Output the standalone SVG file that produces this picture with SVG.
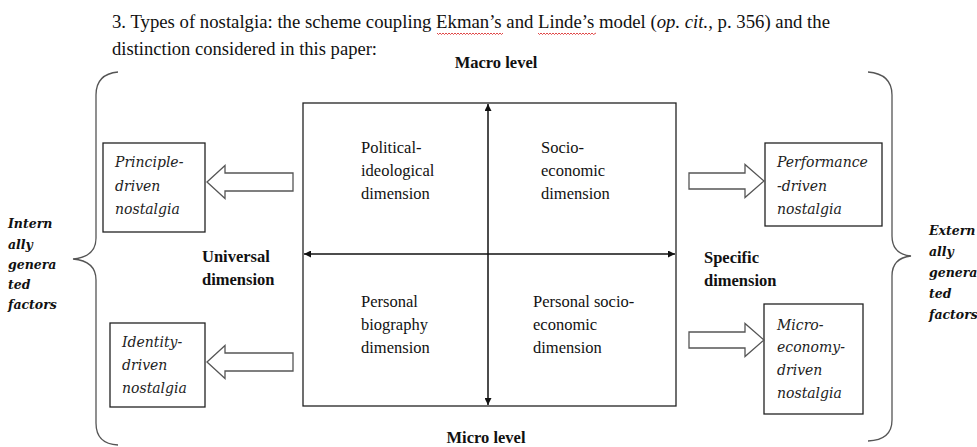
<svg xmlns="http://www.w3.org/2000/svg" width="977" height="447" viewBox="0 0 977 447">
<defs>
<style>
.title{font-family:"Liberation Serif","Times New Roman",serif;font-size:18px;fill:#111}
.lvl{font-family:"Liberation Serif","Times New Roman",serif;font-size:16.5px;font-weight:bold;fill:#111}
.quad{font-family:"Liberation Serif","Times New Roman",serif;font-size:16.5px;fill:#111}
.it{font-family:"DejaVu Serif","Liberation Serif",serif;font-size:14px;font-style:italic;fill:#222}
.side{font-family:"DejaVu Serif","Liberation Serif",serif;font-size:12.5px;font-style:italic;font-weight:bold;fill:#111}
.box{fill:#fff;stroke:#222;stroke-width:1.3}
.blk{fill:#fff;stroke:#555;stroke-width:1.3;stroke-linejoin:miter}
.brace{fill:none;stroke:#555;stroke-width:1.3}
.axis{stroke:#111;stroke-width:1.5;fill:none}
.wavy{fill:none;stroke:#d33;stroke-width:0.9}
</style>
<marker id="ah" viewBox="0 0 10 10" refX="10" refY="5" markerWidth="7" markerHeight="7" markerUnits="userSpaceOnUse" orient="auto-start-reverse">
<path d="M0,0 L10,5 L0,10 z" fill="#111"/>
</marker>
</defs>
<rect width="977" height="447" fill="#fff"/>

<g id="title">
<text class="title" x="112" y="28" textLength="718" lengthAdjust="spacingAndGlyphs">3. Types of nostalgia: the scheme coupling Ekman’s and Linde’s model (<tspan font-style="italic">op. cit.</tspan>, p. 356) and the</text>
<text class="title" x="112" y="55" textLength="265" lengthAdjust="spacingAndGlyphs">distinction considered in this paper:</text>
<polyline class="wavy" points="437,33 438.5,34.5 440,33 441.5,34.5 443,33 444.5,34.5 446,33 447.5,34.5 449,33 450.5,34.5 452,33 453.5,34.5 455,33 456.5,34.5 458,33 459.5,34.5 461,33 462.5,34.5 464,33 465.5,34.5 467,33 468.5,34.5 470,33 471.5,34.5 473,33 474.5,34.5 476,33 477.5,34.5 479,33 480.5,34.5 482,33 483.5,34.5 485,33 486.5,34.5 488,33 489.5,34.5 491,33 492.5,34.5 494,33 495.5,34.5 497,33 498.5,34.5 500,33 501.5,34.5 503,33"/>
<polyline class="wavy" points="538,33 539.5,34.5 541,33 542.5,34.5 544,33 545.5,34.5 547,33 548.5,34.5 550,33 551.5,34.5 553,33 554.5,34.5 556,33 557.5,34.5 559,33 560.5,34.5 562,33 563.5,34.5 565,33 566.5,34.5 568,33 569.5,34.5 571,33 572.5,34.5 574,33 575.5,34.5 577,33 578.5,34.5 580,33 581.5,34.5 583,33 584.5,34.5 586,33 587.5,34.5 589,33 590.5,34.5 592,33 593.5,34.5 596,33"/>
</g>

<g id="macro-level"><text class="lvl" x="496" y="68" text-anchor="middle">Macro level</text></g>
<g id="micro-level"><text class="lvl" x="486" y="443" text-anchor="middle">Micro level</text></g>

<g id="matrix">
<rect class="box" x="303" y="103" width="373" height="303"/>
<text class="quad"><tspan x="361" y="153">Political-</tspan><tspan x="361" y="176">ideological</tspan><tspan x="361" y="199">dimension</tspan></text>
<text class="quad"><tspan x="541" y="153">Socio-</tspan><tspan x="541" y="176">economic</tspan><tspan x="541" y="199">dimension</tspan></text>
<text class="quad"><tspan x="361" y="307">Personal</tspan><tspan x="361" y="330">biography</tspan><tspan x="361" y="353">dimension</tspan></text>
<text class="quad"><tspan x="533" y="307">Personal socio-</tspan><tspan x="533" y="330">economic</tspan><tspan x="533" y="353">dimension</tspan></text>
</g>

<g id="universal-dimension"><text class="lvl"><tspan x="202" y="262">Universal</tspan><tspan x="202" y="285">dimension</tspan></text></g>
<g id="specific-dimension"><text class="lvl"><tspan x="704" y="263">Specific</tspan><tspan x="704" y="286">dimension</tspan></text></g>

<g id="principle-driven">
<rect class="box" x="103" y="143" width="102" height="89"/>
<text class="it"><tspan x="115" y="167">Principle-</tspan><tspan x="115" y="191">driven</tspan><tspan x="115" y="214">nostalgia</tspan></text>
</g>
<g id="identity-driven">
<rect class="box" x="110" y="323" width="95" height="84"/>
<text class="it"><tspan x="122" y="347">Identity-</tspan><tspan x="122" y="370">driven</tspan><tspan x="122" y="393">nostalgia</tspan></text>
</g>
<g id="performance-driven">
<rect class="box" x="765" y="143" width="117" height="83"/>
<text class="it"><tspan x="777" y="167">Performance</tspan><tspan x="777" y="191">-driven</tspan><tspan x="777" y="214">nostalgia</tspan></text>
</g>
<g id="micro-economy-driven">
<rect class="box" x="764" y="304" width="99" height="110"/>
<text class="it"><tspan x="777" y="330">Micro-</tspan><tspan x="777" y="352">economy-</tspan><tspan x="777" y="375">driven</tspan><tspan x="777" y="398">nostalgia</tspan></text>
</g>

<g id="internal-factors">
<path class="brace" d="M118,72 Q96,74 96,95 L96,238 Q96,257 73,259 Q96,261 96,280 L96,423 Q96,444 118,445"/>
<text class="side"><tspan x="8" y="228">Intern</tspan><tspan x="8" y="249">ally</tspan><tspan x="8" y="269">genera</tspan><tspan x="8" y="289">ted</tspan><tspan x="8" y="309">factors</tspan></text>
</g>
<g id="external-factors">
<path class="brace" d="M868,72 Q892,74 892,95 L892,236 Q892,254 911,256 Q892,258 892,276 L892,420 Q892,440 868,441"/>
<text class="side"><tspan x="929" y="235">Extern</tspan><tspan x="929" y="256">ally</tspan><tspan x="929" y="277">genera</tspan><tspan x="929" y="298">ted</tspan><tspan x="929" y="319">factors</tspan></text>
</g>

<g id="connectors">
<line class="axis" x1="488" y1="104" x2="488" y2="405" marker-start="url(#ah)" marker-end="url(#ah)"/>
<line class="axis" x1="304" y1="254" x2="675" y2="254" marker-start="url(#ah)" marker-end="url(#ah)"/>
<polygon class="blk" points="207,182 225,165.5 225,173 293,173 293,191 225,191 225,198.5"/>
<polygon class="blk" points="207,362 225,345.5 225,353 293,353 293,371 225,371 225,378.5"/>
<polygon class="blk" points="689,173 745,173 745,164.5 764,181 745,197.5 745,189 689,189"/>
<polygon class="blk" points="689,332 745,332 745,323.5 764,340 745,356.5 745,348 689,348"/>
</g>
</svg>
